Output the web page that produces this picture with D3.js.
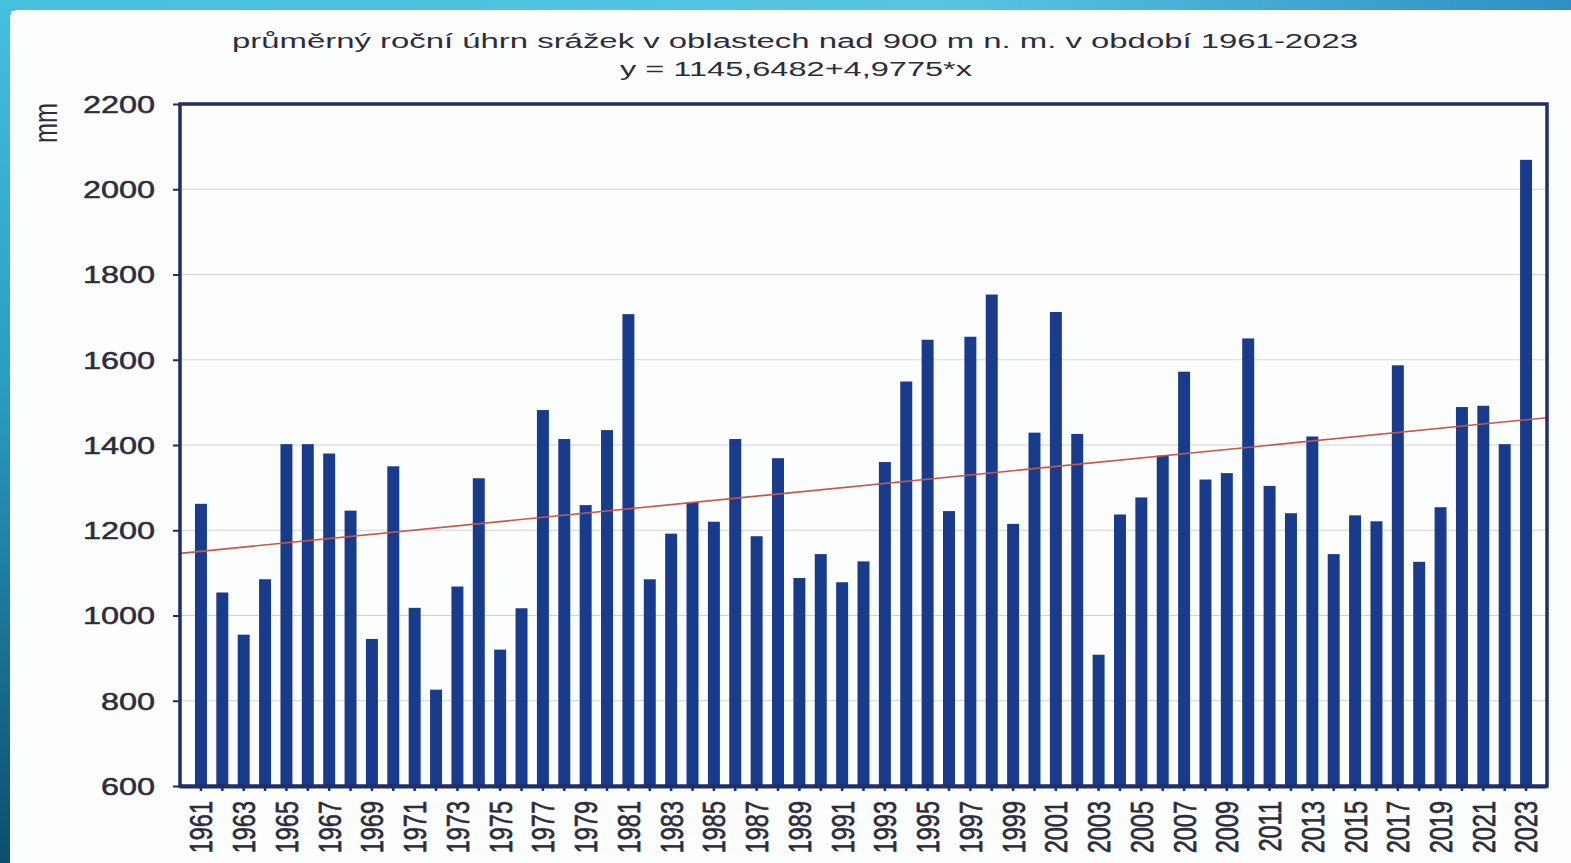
<!DOCTYPE html>
<html>
<head>
<meta charset="utf-8">
<script src="https://cdn.jsdelivr.net/npm/d3@7"></script>
<style>
  body { margin: 0; background: #ffffff; }
  svg { display: block; font-family: "Liberation Sans", Arial, sans-serif; }
</style>
</head>
<body>
<div id="chart"></div>
<script>
const WIDTH = 1571;
const HEIGHT = 863;
const STRETCH = 1.35; // the source picture is stretched sideways

const titleLines = [
  "průměrný roční úhrn srážek v oblastech nad 900 m n. m. v období 1961-2023",
  "y = 1145,6482+4,9775*x"
];
const yLabel = "mm";

const years = d3.range(1961, 2024);
const precipitation = [
  1262, 1054, 955, 1085, 1402, 1402, 1380, 1246, 945, 1350,
  1018, 826, 1068, 1322, 920, 1017, 1482, 1414, 1259, 1435,
  1707, 1085, 1192, 1266, 1220, 1414, 1186, 1369, 1088, 1144,
  1078, 1127, 1360, 1549, 1647, 1245, 1654, 1753, 1215, 1429,
  1712, 1426, 908, 1237, 1277, 1375, 1572, 1319, 1334, 1650,
  1304, 1240, 1420, 1144, 1235, 1221, 1587, 1126, 1254, 1489,
  1492, 1402, 2069
];
const yTicks = [600, 800, 1000, 1200, 1400, 1600, 1800, 2000, 2200];
const trend = { a: 1145.6482, b: 4.9775 };

const data = years.map((y, i) => ({ year: y, value: precipitation[i] }));

const plot = { left: 180, right: 1547, top: 104, bottom: 786 };
const NAVY = "#1f2e66";
const BAR = "#183b8c";
const TEXT = "#2c2c3c";

const svg = d3.select("#chart").append("svg")
  .attr("width", WIDTH)
  .attr("height", HEIGHT);

// slide frame
const defs = svg.append("defs");
const gTop = defs.append("linearGradient").attr("id", "gTop");
gTop.append("stop").attr("offset", "0%").attr("stop-color", "#46c0dc");
gTop.append("stop").attr("offset", "60%").attr("stop-color", "#58c6e0");
gTop.append("stop").attr("offset", "100%").attr("stop-color", "#2f8fc4");
const gLeft = defs.append("linearGradient").attr("id", "gLeft")
  .attr("x1", 0).attr("y1", 0).attr("x2", 0).attr("y2", 1);
gLeft.append("stop").attr("offset", "0%").attr("stop-color", "#46c0dc");
gLeft.append("stop").attr("offset", "45%").attr("stop-color", "#2a9cc0");
gLeft.append("stop").attr("offset", "100%").attr("stop-color", "#0d4e6c");

svg.append("rect").attr("width", WIDTH).attr("height", 11).attr("fill", "url(#gTop)");
svg.append("rect").attr("width", 11).attr("height", HEIGHT).attr("fill", "url(#gLeft)");
svg.append("rect")
  .attr("x", 10).attr("y", 10)
  .attr("width", WIDTH).attr("height", HEIGHT)
  .attr("rx", 8)
  .attr("fill", "#fcfefe");

const x = d3.scaleBand()
  .domain(years)
  .range([plot.left, plot.right])
  .paddingInner(0.44)
  .paddingOuter(0.7);

const y = d3.scaleLinear()
  .domain([600, 2200])
  .range([plot.bottom, plot.top]);

// gridlines
svg.append("g")
  .selectAll("line")
  .data(yTicks.slice(1, -1))
  .join("line")
  .attr("x1", plot.left)
  .attr("x2", plot.right)
  .attr("y1", d => y(d))
  .attr("y2", d => y(d))
  .attr("stroke", "#cfd3d8")
  .attr("stroke-width", 1.2);

// bars
svg.append("g")
  .selectAll("rect")
  .data(data)
  .join("rect")
  .attr("x", d => x(d.year))
  .attr("width", x.bandwidth())
  .attr("y", d => y(d.value))
  .attr("height", d => y(600) - y(d.value))
  .attr("fill", BAR);

// linear trend, x = 1..63
const xLin = d3.scaleLinear()
  .domain([1, years.length])
  .range([x(years[0]) + x.bandwidth() / 2, x(years[years.length - 1]) + x.bandwidth() / 2]);
const trendX = [xLin.invert(plot.left), xLin.invert(plot.right)];
svg.append("path")
  .datum(trendX)
  .attr("fill", "none")
  .attr("stroke", "#c4584f")
  .attr("stroke-width", 1.6)
  .attr("d", d3.line()
    .x(t => xLin(t))
    .y(t => y(trend.a + trend.b * t)));

// y axis
const yAxis = svg.append("g")
  .attr("transform", `translate(${plot.left},0)`)
  .call(d3.axisLeft(y).tickValues(yTicks).tickFormat(d3.format("d")).tickSize(7).tickPadding(0));
yAxis.select(".domain").remove();
yAxis.selectAll(".tick line").attr("stroke", NAVY).attr("stroke-width", 2);
yAxis.selectAll(".tick text")
  .attr("x", -18.5)
  .attr("dy", "0.35em")
  .attr("transform", `scale(${STRETCH},1)`)
  .attr("font-size", 24)
  .attr("fill", TEXT)
  .attr("stroke", TEXT)
  .attr("stroke-width", 0.5);

// x axis
const xAxis = svg.append("g")
  .attr("transform", `translate(0,${plot.bottom})`)
  .call(d3.axisBottom(x)
    .tickSize(5)
    .tickFormat(d => (d % 2 === 1 ? d : "")));
xAxis.select(".domain").remove();
xAxis.selectAll(".tick line").attr("stroke", NAVY).attr("stroke-width", 2.5);
xAxis.selectAll(".tick text")
  .attr("x", -15)
  .attr("y", 0)
  .attr("dy", "0.36em")
  .attr("text-anchor", "end")
  .attr("transform", `rotate(-90) scale(1,${STRETCH})`)
  .attr("font-size", 23.5)
  .attr("fill", TEXT)
  .attr("stroke", TEXT)
  .attr("stroke-width", 0.5);

// frame
svg.append("rect")
  .attr("x", plot.left)
  .attr("y", plot.top)
  .attr("width", plot.right - plot.left)
  .attr("height", plot.bottom - plot.top)
  .attr("fill", "none")
  .attr("stroke", NAVY)
  .attr("stroke-width", 3.5);
svg.append("line")
  .attr("x1", plot.left).attr("x2", plot.right)
  .attr("y1", plot.bottom + 1).attr("y2", plot.bottom + 1)
  .attr("stroke", NAVY).attr("stroke-width", 3);

// titles
svg.append("text")
  .attr("x", 795).attr("y", 48)
  .attr("text-anchor", "middle")
  .attr("font-size", 20)
  .attr("fill", TEXT)
  .attr("textLength", 1126)
  .attr("lengthAdjust", "spacingAndGlyphs")
  .text(titleLines[0]);
svg.append("text")
  .attr("x", 796).attr("y", 76)
  .attr("text-anchor", "middle")
  .attr("font-size", 20)
  .attr("fill", TEXT)
  .attr("textLength", 352)
  .attr("lengthAdjust", "spacingAndGlyphs")
  .text(titleLines[1]);

// unit label
svg.append("text")
  .attr("transform", `translate(45,123) rotate(-90) scale(1,${STRETCH})`)
  .attr("text-anchor", "middle")
  .attr("dy", "0.36em")
  .attr("font-size", 24)
  .attr("fill", TEXT)
  .text(yLabel);
</script>
</body>
</html>
